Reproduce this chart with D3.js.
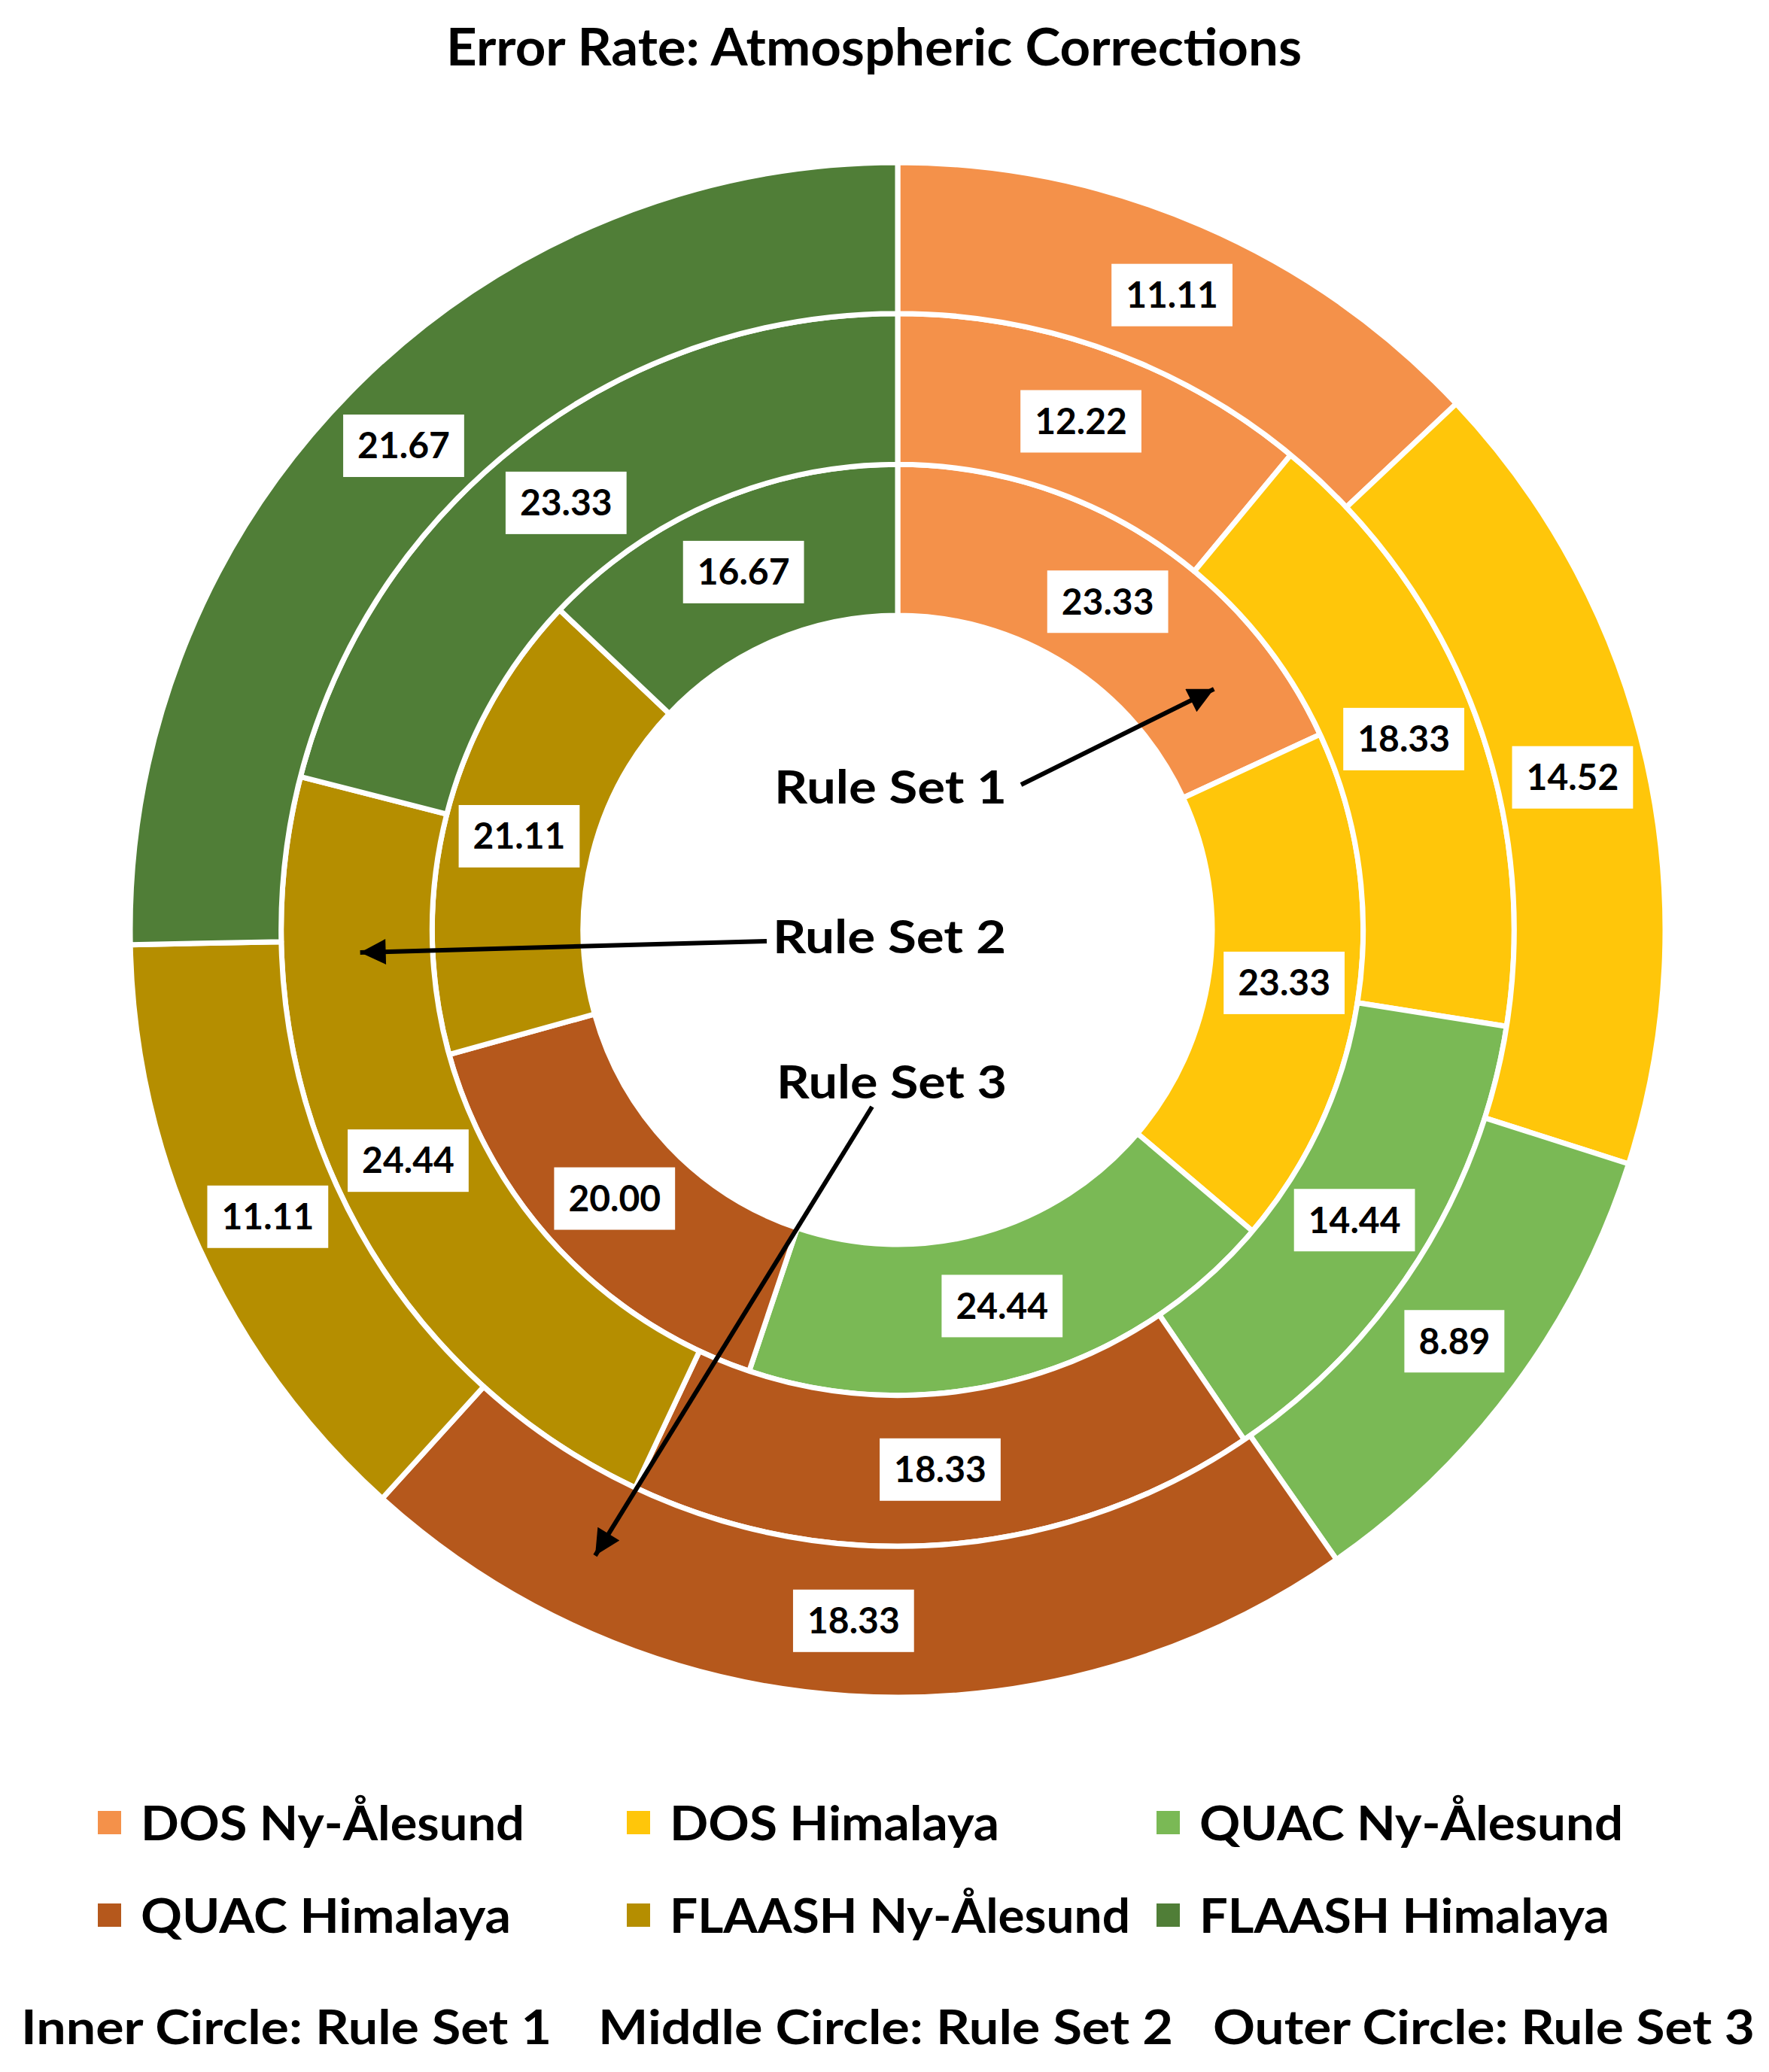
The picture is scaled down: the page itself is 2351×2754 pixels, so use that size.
<!DOCTYPE html>
<html>
<head>
<meta charset="utf-8">
<script src="https://cdn.jsdelivr.net/npm/d3@7"></script>
<style>
body { margin: 0; background: #fff; }
text { font-family: Lato, "Open Sans", sans-serif; font-weight: bold; fill: #000; }
</style>
</head>
<body>
<script>
var categories = ["DOS Ny-Ålesund", "DOS Himalaya", "QUAC Ny-Ålesund",
                  "QUAC Himalaya", "FLAASH Ny-Ålesund", "FLAASH Himalaya"];
var colors = ["#F4914A", "#FFC60A", "#7AB955", "#B5581C", "#B58E00", "#507E37"];

// inner -> outer
var ruleSet1 = [23.33, 23.33, 24.44, 20.00, 21.11, 16.67];
var ruleSet2 = [12.22, 18.33, 14.44, 18.33, 24.44, 23.33];
var ruleSet3 = [11.11, 14.52, 8.89, 18.33, 11.11, 21.67];

var ruleSetNames = ["Rule Set 1", "Rule Set 2", "Rule Set 3"];
var circleNames = ["Inner Circle", "Middle Circle", "Outer Circle"];
var title = "Error Rate: Atmospheric Corrections";

var width = 2351, height = 2754,
    cx = 1193, cy = 1236;

var ringR = d3.scaleLinear().domain([0, 3]).range([418, 1020]);
var color = d3.scaleOrdinal().domain(categories).range(colors);
var pie = d3.pie().sort(null).value(function(d) { return d; });

var svg = d3.select("body").append("svg")
        .attr("width", width)
        .attr("height", height);

svg.append("rect")
        .attr("width", width)
        .attr("height", height)
        .attr("fill", "#fff");

svg.append("defs").append("marker")
        .attr("id", "head")
        .attr("viewBox", "0 0 10 10")
        .attr("refX", 10)
        .attr("refY", 5)
        .attr("markerUnits", "userSpaceOnUse")
        .attr("markerWidth", 40)
        .attr("markerHeight", 34)
        .attr("orient", "auto")
    .append("path")
        .attr("d", "M0,0L10,5L0,10Z")
        .attr("fill", "#000");

// title
svg.append("text")
        .attr("x", 593)
        .attr("y", 87)
        .attr("font-size", 68)
        .attr("textLength", 1137)
        .attr("lengthAdjust", "spacingAndGlyphs")
        .text(title);

var chart = svg.append("g")
        .attr("transform", "translate(" + cx + "," + cy + ")");

var rings = [ruleSet1, ruleSet2, ruleSet3];
var arcs = rings.map(function(values, i) {
    return d3.arc().innerRadius(ringR(i)).outerRadius(ringR(i + 1));
});

rings.forEach(function(values, i) {
    chart.append("g")
            .attr("class", "ring")
        .selectAll("path")
        .data(pie(values))
        .join("path")
            .attr("d", arcs[i])
            .attr("fill", function(d, j) { return color(categories[j]); })
            .attr("stroke", "#fff")
            .attr("stroke-width", 7)
            .attr("stroke-linejoin", "round");
});

// value labels in white boxes
rings.forEach(function(values, i) {
    var lab = chart.append("g")
            .attr("class", "labels")
        .selectAll("g")
        .data(pie(values))
        .join("g")
            .attr("transform", function(d) { return "translate(" + arcs[i].centroid(d) + ")"; });
    lab.append("rect").attr("fill", "#fff");
    lab.append("text")
            .attr("text-anchor", "middle")
            .attr("dy", "0.36em")
            .attr("font-size", 48)
            .text(function(d) { return d3.format(".2f")(d.data); })
        .each(function() {
            var w = this.getComputedTextLength();
            d3.select(this.previousSibling)
                    .attr("x", -w / 2 - 19)
                    .attr("y", -41)
                    .attr("width", w + 38)
                    .attr("height", 83);
        });
});

// centre annotations
var centreText = [
    {x: 1029, y: 1068, w: 309},
    {x: 1027, y: 1267, w: 310},
    {x: 1032, y: 1460, w: 306}
];
svg.append("g").selectAll("text")
        .data(ruleSetNames)
        .join("text")
            .attr("x", function(d, i) { return centreText[i].x; })
            .attr("y", function(d, i) { return centreText[i].y; })
            .attr("font-size", 61)
            .attr("textLength", function(d, i) { return centreText[i].w; })
            .attr("lengthAdjust", "spacingAndGlyphs")
            .text(function(d) { return d; });

// arrows: tail near text, tip inside its ring (angle in degrees clockwise from 12 o'clock)
var arrows = [
    {tail: [1357, 1043], ring: 0.55, angle: 52.7},
    {tail: [1019, 1251], ring: 1.48, angle: 267.6},
    {tail: [1159, 1471], ring: 2.52, angle: 205.8}
];
svg.append("g").selectAll("line")
        .data(arrows)
        .join("line")
            .attr("x1", function(d) { return d.tail[0]; })
            .attr("y1", function(d) { return d.tail[1]; })
            .attr("x2", function(d) { return cx + ringR(d.ring) * Math.sin(d.angle * Math.PI / 180); })
            .attr("y2", function(d) { return cy - ringR(d.ring) * Math.cos(d.angle * Math.PI / 180); })
            .attr("stroke", "#000")
            .attr("stroke-width", 6)
            .attr("marker-end", "url(#head)");

// legend
var legendX = [130, 833, 1537],
    legendY = [2446, 2569],
    legendW = [510, 438, 563, 492, 612, 545];
var legend = svg.append("g").selectAll("g")
        .data(categories)
        .join("g")
            .attr("transform", function(d, i) {
                return "translate(" + legendX[i % 3] + "," + legendY[Math.floor(i / 3)] + ")";
            });
legend.append("rect")
        .attr("x", 0)
        .attr("y", -39)
        .attr("width", 31)
        .attr("height", 31)
        .attr("fill", function(d) { return color(d); });
legend.append("text")
        .attr("x", 57)
        .attr("font-size", 64)
        .attr("textLength", function(d, i) { return legendW[i]; })
        .attr("lengthAdjust", "spacingAndGlyphs")
        .text(function(d) { return d; });

// bottom key
var keyX = [28, 795, 1612],
    keyW = [705, 764, 720];
svg.append("g").selectAll("text")
        .data(circleNames)
        .join("text")
            .attr("x", function(d, i) { return keyX[i]; })
            .attr("y", 2717)
            .attr("font-size", 63)
            .attr("textLength", function(d, i) { return keyW[i]; })
            .attr("lengthAdjust", "spacingAndGlyphs")
            .text(function(d, i) { return d + ": " + ruleSetNames[i]; });
</script>
</body>
</html>
